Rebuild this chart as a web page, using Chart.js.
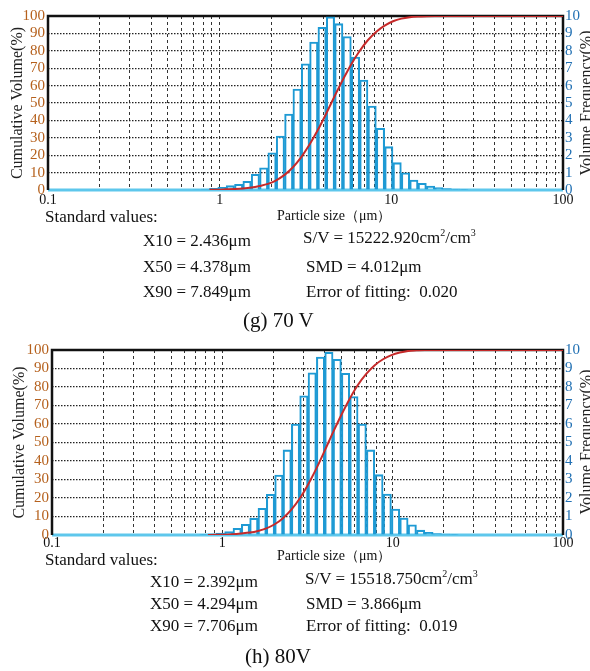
<!DOCTYPE html>
<html>
<head>
<meta charset="utf-8">
<script src="https://cdn.jsdelivr.net/npm/chart.js@4.4.1/dist/chart.umd.min.js"></script>
<style>
html, body { margin: 0; padding: 0; background: #fff; }
body { width: 590px; height: 671px; position: relative; overflow: hidden;
       font-family: 'Liberation Serif', 'Times New Roman', serif; color: #111; }
canvas { position: absolute; left: 0; }
.t { position: absolute; white-space: nowrap; line-height: 1; font-size: 17px; z-index: 2; }
.s { font-size: 14px; }
.cap { font-size: 21px; }
.rt { position: absolute; width: 170px; text-align: center; font-size: 16px; line-height: 1;
      transform: rotate(-90deg); color: #222; white-space: nowrap; }
sup { font-size: 10px; vertical-align: 7px; line-height: 0; }
</style>
</head>
<body>
<canvas id="chartG" width="590" height="208" style="top:0px"></canvas>
<canvas id="chartH" width="590" height="219" style="top:334px"></canvas>

<div class="rt" style="left:501px; top:95px">Volume Frequency(%)</div>
<div class="rt" style="left:501px; top:434px">Volume Frequency(%)</div>

<!-- (g) 70 V -->
<div class="t" style="left:45px; top:208px">Standard values:</div>
<div class="t s" style="left:277px; top:209px">Particle size（μm）</div>
<div class="t" style="left:143px; top:232px">X10 = 2.436μm</div>
<div class="t" style="left:143px; top:258px">X50 = 4.378μm</div>
<div class="t" style="left:143px; top:283px">X90 = 7.849μm</div>
<div class="t" style="left:303px; top:229px">S/V = 15222.920cm<sup>2</sup>/cm<sup>3</sup></div>
<div class="t" style="left:306px; top:258px">SMD = 4.012μm</div>
<div class="t" style="left:306px; top:283px">Error of fitting:&nbsp; 0.020</div>
<div class="t cap" style="left:243px; top:310px">(g) 70 V</div>

<!-- (h) 80V -->
<div class="t" style="left:45px; top:551px">Standard values:</div>
<div class="t s" style="left:277px; top:549px">Particle size（μm）</div>
<div class="t" style="left:150px; top:573px">X10 = 2.392μm</div>
<div class="t" style="left:150px; top:595px">X50 = 4.294μm</div>
<div class="t" style="left:150px; top:617px">X90 = 7.706μm</div>
<div class="t" style="left:305px; top:570px">S/V = 15518.750cm<sup>2</sup>/cm<sup>3</sup></div>
<div class="t" style="left:306px; top:595px">SMD = 3.866μm</div>
<div class="t" style="left:306px; top:617px">Error of fitting:&nbsp; 0.019</div>
<div class="t cap" style="left:245px; top:646px">(h) 80V</div>

<script>
// x axis: particle size (um), log
const sizeMajor = [0.1, 1, 10, 100];
const sizeLabels = ['0.1', '1', '10', '100'];

// (g) 70 V - volume frequency bars (bin centre, %)
const gBinSize = [0.737, 0.825, 0.923, 1.031, 1.154, 1.291, 1.443, 1.615, 1.805, 2.018,
                  2.259, 2.526, 2.823, 3.160, 3.533, 3.950, 4.421, 4.942, 5.525, 6.185,
                  6.914, 7.727, 8.650, 9.670, 10.81, 12.10, 13.53, 15.12, 16.93, 18.92,
                  21.16, 23.67, 26.46];
const gFreq = [0.03, 0.06, 0.1, 0.15, 0.25, 0.33, 0.5, 0.9, 1.28, 2.14,
               3.1, 4.37, 5.8, 7.25, 8.5, 9.35, 9.95, 9.56, 8.82, 7.64,
               6.32, 4.83, 3.55, 2.49, 1.57, 0.99, 0.57, 0.38, 0.23, 0.14,
               0.08, 0.05, 0.02];
// (g) cumulative volume curve
const gEdge = [0.872, 0.976, 1.091, 1.220, 1.366, 1.527, 1.707, 1.910, 2.135, 2.387,
               2.672, 2.987, 3.339, 3.737, 4.178, 4.671, 5.228, 5.845, 6.535, 7.313,
               8.176, 9.140, 10.23, 11.44, 12.79, 14.31, 16.00, 17.88, 100];
const gCum = [0.1, 0.2, 0.4, 0.6, 0.9, 1.4, 2.3, 3.5, 5.6, 8.7,
              13.1, 18.9, 26.1, 34.6, 44.0, 53.9, 63.5, 72.3, 79.9, 86.2,
              91.0, 94.5, 97.0, 98.5, 99.3, 99.7, 99.9, 100, 100];

// (h) 80V - volume frequency bars
const hBinSize = [0.779, 0.871, 0.975, 1.092, 1.222, 1.367, 1.531, 1.713, 1.917, 2.148,
                  2.403, 2.689, 3.011, 3.370, 3.771, 4.224, 4.726, 5.289, 5.924, 6.629,
                  7.418, 8.309, 9.297, 10.40, 11.65, 13.04, 14.59, 16.34, 18.28, 20.46,
                  22.92];
const hFreq = [0.03, 0.06, 0.1, 0.18, 0.36, 0.58, 0.9, 1.44, 2.2, 3.24,
               4.6, 6.0, 7.52, 8.77, 9.62, 9.88, 9.5, 8.74, 7.48, 6.0,
               4.6, 3.26, 2.21, 1.4, 0.92, 0.55, 0.26, 0.15, 0.08, 0.05,
               0.03];
// (h) cumulative volume curve
const hEdge = [0.823, 0.922, 1.032, 1.154, 1.293, 1.447, 1.619, 1.813, 2.029, 2.270,
               2.543, 2.846, 3.184, 3.567, 3.991, 4.466, 5.003, 5.598, 6.262, 7.017,
               7.851, 8.782, 9.840, 11.01, 12.32, 13.80, 15.44, 100];
const hCum = [0.03, 0.1, 0.2, 0.4, 0.8, 1.3, 2.2, 3.6, 5.8, 9.1,
              13.7, 19.7, 27.2, 36.0, 45.6, 55.5, 65.0, 73.7, 81.2, 87.2,
              91.8, 95.0, 97.2, 98.6, 99.5, 99.8, 100, 100];

// grid lines at 1..9 of every decade
const gridSizes = [];
sizeMajor.slice(0, -1).forEach(d => {
    for (let k = 1; k < 10; k++) gridSizes.push(+(d * k).toFixed(3));
});
gridSizes.push(100);

Chart.defaults.font.family = "'Liberation Serif', 'Times New Roman', serif";

// black frame, light blue base line
const frame = {
    id: 'frame',
    beforeDatasetsDraw(chart) {
        const { ctx, chartArea: a } = chart;
        ctx.save();
        ctx.lineWidth = 3;
        ctx.strokeStyle = '#5ec7ec';
        ctx.beginPath();
        ctx.moveTo(a.left, a.bottom);
        ctx.lineTo(a.right, a.bottom);
        ctx.stroke();
        ctx.lineWidth = 2.5;
        ctx.strokeStyle = '#111';
        ctx.beginPath();
        ctx.moveTo(a.left, a.bottom);
        ctx.lineTo(a.left, a.top);
        ctx.lineTo(a.right, a.top);
        ctx.lineTo(a.right, a.bottom);
        ctx.stroke();
        ctx.restore();
    }
};

function makeChart(id, o) {
    return new Chart(document.getElementById(id), {
        type: 'bar',
        data: {
            datasets: [{
                type: 'line',
                data: o.edge.map((x, i) => ({ x: x, y: o.cum[i] })),
                yAxisID: 'y',
                borderColor: '#c62a2a',
                borderWidth: 2,
                pointRadius: 0,
                cubicInterpolationMode: 'monotone',
                order: 0
            }, {
                type: 'bar',
                data: o.size.map((x, i) => ({ x: x, y: o.freq[i] })),
                yAxisID: 'y2',
                borderColor: '#1e9ad4',
                borderWidth: 1.4,
                backgroundColor: 'rgba(255,255,255,0)',
                borderSkipped: 'start',
                barThickness: 'flex',
                barPercentage: 1,
                categoryPercentage: 1,
                order: 1
            }]
        },
        options: {
            responsive: false,
            animation: false,
            layout: { padding: { top: 16, left: 0, right: 0, bottom: 0 } },
            plugins: { legend: { display: false }, tooltip: { enabled: false } },
            scales: {
                x: {
                    type: 'logarithmic', min: 0.1, max: 100, offset: false,
                    grid: { offset: false, color: '#333', lineWidth: 1, drawTicks: false },
                    border: { display: false, dash: [3, 3] },
                    afterBuildTicks: s => { s.ticks = gridSizes.map(v => ({ value: v })); },
                    afterFit: s => { s.height = o.xh; },
                    ticks: {
                        autoSkip: false, maxRotation: 0, padding: o.xpad, color: '#111',
                        font: { size: 14 },
                        callback: v => {
                            const i = sizeMajor.findIndex(m => Math.abs(m - v) < 1e-9);
                            return i < 0 ? '' : sizeLabels[i];
                        }
                    }
                },
                y: {
                    position: 'left', min: 0, max: 100,
                    ticks: { stepSize: 10, autoSkip: false, color: '#b5601c', padding: 3, font: { size: 15 } },
                    grid: { color: '#222', lineWidth: 1.2, drawTicks: false },
                    border: { display: false, dash: [1.5, 1.5] },
                    title: { display: true, text: 'Cumulative Volume(%)', color: '#222',
                             font: { size: 16 }, padding: { top: o.tpad, bottom: 0 } },
                    afterFit: s => { s.width = o.left; }
                },
                y2: {
                    position: 'right', min: 0, max: 10,
                    ticks: { stepSize: 1, autoSkip: false, color: '#2170b3', padding: 2, font: { size: 15 } },
                    grid: { drawOnChartArea: false, drawTicks: false },
                    border: { display: false },
                    afterFit: s => { s.width = 590 - o.right; }
                }
            }
        },
        plugins: [frame]
    });
}

makeChart('chartG', { size: gBinSize, freq: gFreq, edge: gEdge, cum: gCum,
                      left: 48, right: 563, xh: 18, xpad: 2, tpad: 8 });
makeChart('chartH', { size: hBinSize, freq: hFreq, edge: hEdge, cum: hCum,
                      left: 52, right: 563, xh: 18, xpad: 0, tpad: 10 });
</script>
</body>
</html>
